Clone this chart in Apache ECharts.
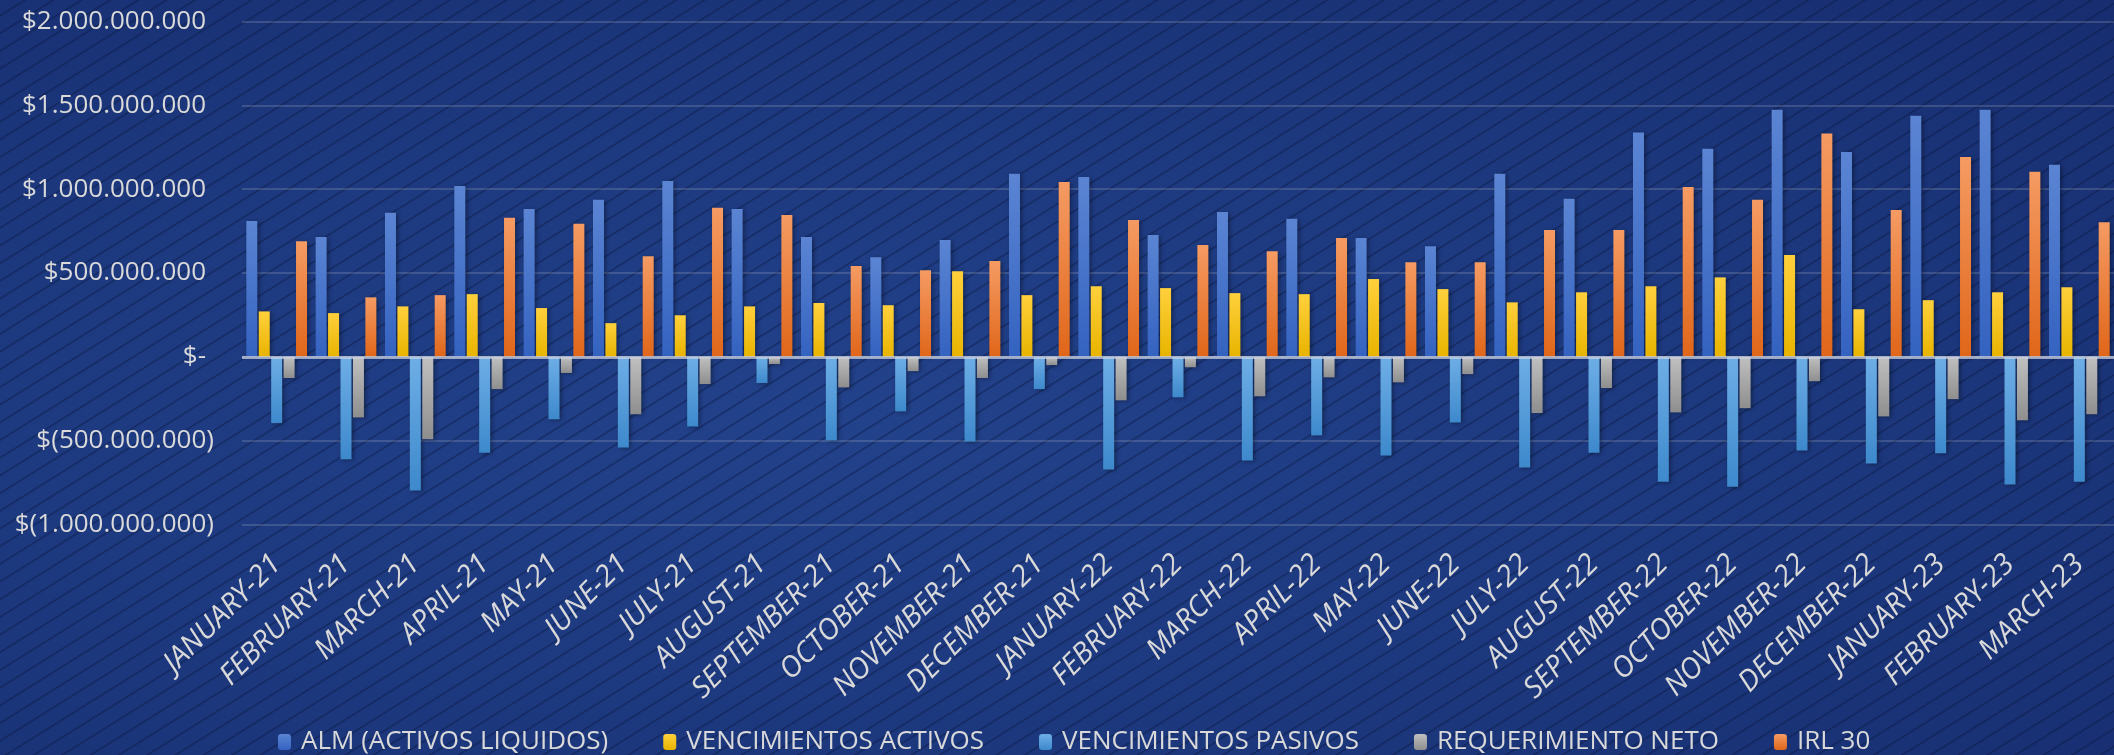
<!DOCTYPE html>
<html>
<head>
<meta charset="utf-8">
<script src="https://cdn.jsdelivr.net/npm/echarts@6/dist/echarts.min.js"></script>
<style>
    html, body { margin: 0; padding: 0; }
    #chartDemo {
        width: 2114px;
        height: 755px;
        background:
            repeating-linear-gradient(148deg, rgba(8, 20, 60, 0) 0px, rgba(8, 20, 60, 0) 12px, rgba(8, 20, 60, 0.45) 13px, rgba(8, 20, 60, 0) 15px),
            radial-gradient(ellipse at 40% 55%, #22428b 0%, #1c377c 60%, #172d70 100%);
    }
</style>
</head>
<body>
<div id="chartDemo"></div>
<script>
    var months = ['JANUARY-21', 'FEBRUARY-21', 'MARCH-21', 'APRIL-21', 'MAY-21', 'JUNE-21', 'JULY-21',
        'AUGUST-21', 'SEPTEMBER-21', 'OCTOBER-21', 'NOVEMBER-21', 'DECEMBER-21',
        'JANUARY-22', 'FEBRUARY-22', 'MARCH-22', 'APRIL-22', 'MAY-22', 'JUNE-22', 'JULY-22',
        'AUGUST-22', 'SEPTEMBER-22', 'OCTOBER-22', 'NOVEMBER-22', 'DECEMBER-22',
        'JANUARY-23', 'FEBRUARY-23', 'MARCH-23'];

    // millones
    var alm = [810, 714, 859, 1019, 882, 936, 1049, 882, 714, 594, 697, 1092, 1073, 726, 863, 823, 709,
        660, 1092, 942, 1338, 1241, 1474, 1222, 1438, 1474, 1145];
    var vencActivos = [271, 261, 301, 374, 291, 201, 248, 301, 321, 308, 511, 368, 421, 410, 380, 374, 464,
        404, 325, 385, 421, 474, 607, 284, 338, 385, 415];
    var vencPasivos = [-395, -611, -797, -571, -372, -541, -415, -156, -498, -325, -504, -192, -671, -241, -618, -468, -588,
        -391, -660, -571, -744, -774, -558, -635, -575, -761, -744];
    var reqNeto = [-126, -361, -491, -192, -96, -342, -162, -43, -182, -85, -126, -49, -259, -62, -235, -122, -152,
        -103, -335, -186, -331, -306, -145, -355, -252, -378, -342];
    var irl30 = [690, 355, 368, 829, 793, 600, 889, 846, 541, 517, 571, 1043, 816, 667, 630, 709, 564,
        564, 756, 756, 1013, 936, 1331, 876, 1192, 1103, 803];

    var seriesNames = ['ALM (ACTIVOS LIQUIDOS)', 'VENCIMIENTOS ACTIVOS', 'VENCIMIENTOS PASIVOS', 'REQUERIMIENTO NETO', 'IRL 30'];
    var yTicks = [-1000000000, 2000000000, 500000000];

    var FONT = '"Open Sans", "DejaVu Sans", sans-serif';
    var TXT = '#d9d9d9';

    function toPesos(arr) {
        return arr.map(function (v) { return v * 1000000; });
    }

    function grad(top, bottom) {
        return new echarts.graphic.LinearGradient(0, 0, 0, 1, [
            {offset: 0, color: top},
            {offset: 1, color: bottom}
        ]);
    }

    function fmtMoney(v) {
        var s = Math.abs(v).toString().replace(/\B(?=(\d{3})+(?!\d))/g, '.');
        if (v === 0) return '{p|$-}';
        if (v < 0) return '$(' + s + ')';
        return '{p|$' + s + '}';
    }

    function makeBar(idx, data, top, bottom) {
        var s = {
            name: seriesNames[idx],
            type: 'bar',
            barWidth: 11,
            barGap: '13%',
            data: toPesos(data),
            itemStyle: {
                color: grad(top, bottom),
                shadowColor: 'rgba(0, 0, 0, 0.35)',
                shadowBlur: 4,
                shadowOffsetX: 2,
                shadowOffsetY: 1
            }
        };
        return s;
    }

    var eChartObj = echarts.init(document.getElementById('chartDemo'));

    var series = [
        makeBar(0, alm, '#5b85d3', '#3462c0'),
        makeBar(1, vencActivos, '#ffd03c', '#e8b400'),
        makeBar(2, vencPasivos, '#6eaee6', '#3d89cc'),
        makeBar(3, reqNeto, '#c0c0c0', '#8e8e8e'),
        makeBar(4, irl30, '#f59b63', '#e06619')
    ];
    // linea del cero
    series[4].markLine = {
        silent: true,
        symbol: 'none',
        label: {show: false},
        lineStyle: {color: 'rgba(200, 207, 222, 0.75)', width: 3, type: 'solid'},
        data: [{yAxis: 0}]
    };

    var options = {
        backgroundColor: 'transparent',
        animation: false,
        grid: {
            left: 242,
            right: 0,
            top: 21.4,
            bottom: 230.4
        },
        legend: {
            data: seriesNames,
            left: 273,
            top: 724,
            itemWidth: 13,
            itemHeight: 16,
            itemGap: 55,
            textStyle: {
                color: TXT,
                fontFamily: FONT,
                fontSize: 26,
                padding: [0, 0, 0, 5]
            }
        },
        xAxis: {
            type: 'category',
            data: months,
            axisLine: {show: false, onZero: false},
            axisTick: {show: false},
            axisLabel: {
                interval: 0,
                rotate: 45,
                margin: 35,
                color: TXT,
                fontFamily: FONT,
                fontSize: 29,
                fontStyle: 'italic'
            }
        },
        yAxis: {
            type: 'value',
            min: yTicks[0],
            max: yTicks[1],
            interval: yTicks[2],
            axisLine: {show: false},
            axisTick: {show: false},
            splitLine: {
                lineStyle: {color: 'rgba(217, 217, 217, 0.18)', width: 2}
            },
            axisLabel: {
                margin: 28,
                color: TXT,
                fontFamily: FONT,
                fontSize: 26,
                formatter: fmtMoney,
                rich: {
                    p: {
                        color: TXT,
                        fontFamily: FONT,
                        fontSize: 26,
                        padding: [0, 8, 0, 0]
                    }
                }
            }
        },
        series: series
    };

    eChartObj.setOption(options);
</script>
</body>
</html>
